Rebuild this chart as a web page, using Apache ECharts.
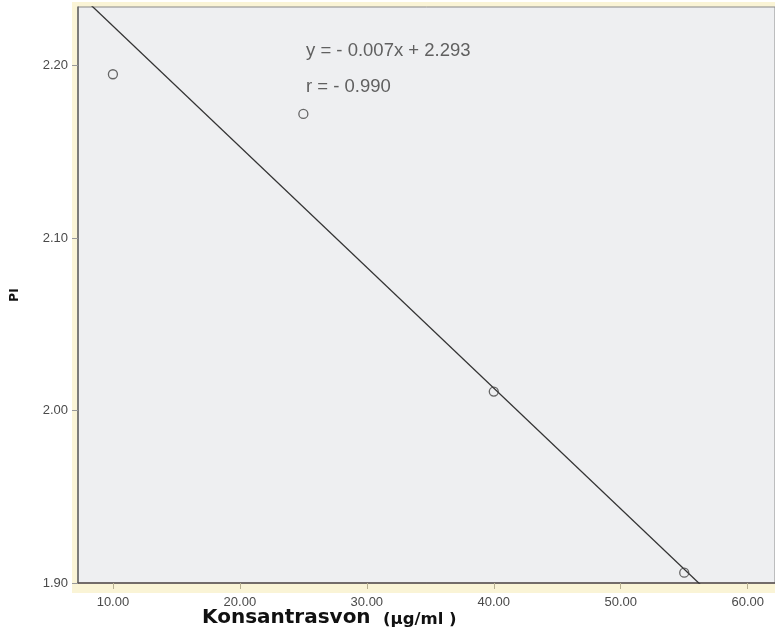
<!DOCTYPE html>
<html>
<head>
    <meta charset="utf-8">
    <title>PI vs Konsantrasvon</title>
    <script src="https://cdn.jsdelivr.net/npm/echarts@6/dist/echarts.min.js"></script>
    <style>
        body { margin: 0; background: #fff; }
    </style>
</head>
<body>
    <div id="main" style="width: 775px; height: 637px;"></div>

    <script type="text/javascript">
        // data
        var konsentrasi = [10, 25, 40, 55];
        var piValues = [2.195, 2.172, 2.011, 1.906];

        // regression line given on the chart
        var slope = -0.007;
        var intercept = 2.293;
        var rValue = -0.990;

        var xTicks = [10, 20, 30, 40, 50, 60];
        var yTicks = [1.90, 2.00, 2.10, 2.20];

        var xMin = 7.25, xMax = 62.15;
        var yMin = 1.90, yMax = 2.234;

        var points = konsentrasi.map(function (x, i) { return [x, piValues[i]]; });
        var fitLine = [xMin, xMax].map(function (x) { return [x, intercept + slope * x]; });

        var myChart = echarts.init(document.getElementById('main'));

        var option = {
            animation: false,
            backgroundColor: '#fff',
            grid: {
                left: 78, right: 0, top: 7, bottom: 54,
                show: true,
                backgroundColor: '#eeeff1',
                borderColor: '#8a8a8a',
                borderWidth: 1
            },
            graphic: [
                {   // pale yellow frame behind the plot
                    type: 'rect', z: -10, silent: true,
                    shape: { x: 72, y: 2, width: 703, height: 591 },
                    style: { fill: '#faf4d6' }
                },
                {
                    type: 'text', left: 306, top: 41,
                    style: {
                        text: 'y = - ' + Math.abs(slope).toFixed(3) + 'x + ' + intercept.toFixed(3),
                        font: '18.5px "Liberation Sans", Arial, sans-serif',
                        fill: '#606060'
                    }
                },
                {
                    type: 'text', left: 306, top: 77,
                    style: {
                        text: 'r = - ' + Math.abs(rValue).toFixed(3),
                        font: '18.5px "Liberation Sans", Arial, sans-serif',
                        fill: '#606060'
                    }
                },
                {
                    type: 'text', left: 202, top: 608,
                    style: {
                        text: 'Konsantrasvon',
                        font: 'bold 20px "DejaVu Sans", sans-serif',
                        fill: '#111'
                    }
                },
                {
                    type: 'text', left: 383, top: 611,
                    style: {
                        text: '(µg/ml )',
                        font: 'bold 16.5px "DejaVu Sans", sans-serif',
                        fill: '#111'
                    }
                }
            ],
            xAxis: {
                type: 'value',
                min: xMin,
                max: xMax,
                axisLine: { show: true, onZero: false, lineStyle: { color: '#5a5050', width: 1.5 } },
                axisTick: { show: true, customValues: xTicks, length: 6, lineStyle: { color: '#b8b090' } },
                axisLabel: {
                    customValues: xTicks,
                    margin: 13,
                    fontSize: 13,
                    fontFamily: '"Liberation Sans", Arial, sans-serif',
                    color: '#4a4a4a',
                    formatter: function (v) { return v.toFixed(2); }
                },
                splitLine: { show: false }
            },
            yAxis: {
                type: 'value',
                min: yMin,
                max: yMax,
                name: 'PI',
                nameLocation: 'middle',
                nameRotate: 90,
                nameGap: 57,
                nameTextStyle: { fontWeight: 'bold', fontSize: 12, fontFamily: '"DejaVu Sans", sans-serif', color: '#111' },
                axisLine: { show: true, onZero: false, lineStyle: { color: '#666', width: 1.5 } },
                axisTick: { show: true, customValues: yTicks, length: 6, lineStyle: { color: '#999' } },
                axisLabel: {
                    customValues: yTicks,
                    margin: 10,
                    fontSize: 13,
                    fontFamily: '"Liberation Sans", Arial, sans-serif',
                    color: '#4a4a4a',
                    formatter: function (v) { return v.toFixed(2); }
                },
                splitLine: { show: false }
            },
            series: [
                {
                    name: 'Fit',
                    type: 'line',
                    data: fitLine,
                    clip: true,
                    symbol: 'none',
                    lineStyle: { color: '#333', width: 1.3 },
                    z: 2
                },
                {
                    name: 'PI',
                    type: 'scatter',
                    data: points,
                    symbol: 'circle',
                    symbolSize: 9,
                    itemStyle: { color: 'rgba(0,0,0,0)', borderColor: '#444', borderWidth: 1.3 },
                    z: 3
                }
            ]
        };

        myChart.setOption(option);
    </script>
</body>
</html>
